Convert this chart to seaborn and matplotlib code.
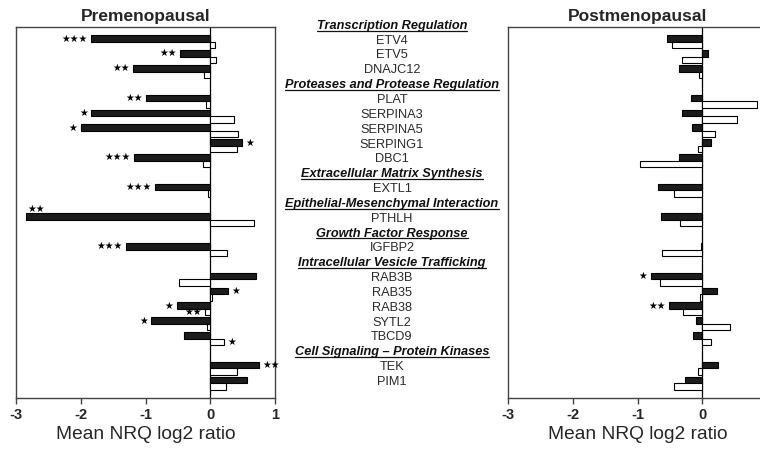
import numpy as np
import pandas as pd
import matplotlib
matplotlib.use("Agg")
import matplotlib.pyplot as plt
import matplotlib.transforms as mtransforms
from matplotlib.lines import Line2D
import seaborn as sns

sns.set_theme(style="white")
plt.rcParams["font.family"] = ["Liberation Sans", "DejaVu Sans"]
plt.rcParams["axes.unicode_minus"] = False

# ---- data ----
rows = ["Transcription Regulation", "ETV4", "ETV5", "DNAJC12",
        "Proteases and Protease Regulation", "PLAT", "SERPINA3", "SERPINA5", "SERPING1", "DBC1",
        "Extracellular Matrix Synthesis", "EXTL1",
        "Epithelial-Mesenchymal Interaction", "PTHLH",
        "Growth Factor Response", "IGFBP2",
        "Intracellular Vesicle Trafficking", "RAB3B", "RAB35", "RAB38", "SYTL2", "TBCD9",
        "Cell Signaling \u2013 Protein Kinases", "TEK", "PIM1"]
headers = ["Transcription Regulation", "Proteases and Protease Regulation",
           "Extracellular Matrix Synthesis", "Epithelial-Mesenchymal Interaction",
           "Growth Factor Response", "Intracellular Vesicle Trafficking",
           "Cell Signaling \u2013 Protein Kinases"]
genes = ["ETV4", "ETV5", "DNAJC12", "PLAT", "SERPINA3", "SERPINA5", "SERPING1", "DBC1",
         "EXTL1", "PTHLH", "IGFBP2", "RAB3B", "RAB35", "RAB38", "SYTL2", "TBCD9", "TEK", "PIM1"]

pre_black = [-1.84, -0.46, -1.19, -0.99, -1.84, -2.00, 0.49, -1.18,
             -0.85, -2.84, -1.30, 0.70, 0.27, -0.52, -0.91, -0.40, 0.75, 0.56]
pre_white = [0.07, 0.09, -0.10, -0.07, 0.37, 0.43, 0.42, -0.11,
             -0.03, 0.67, 0.26, -0.48, 0.03, -0.08, -0.05, 0.22, 0.41, 0.24]
post_black = [-0.55, 0.09, -0.36, -0.17, -0.31, -0.16, 0.13, -0.36,
              -0.68, -0.64, -0.02, -0.80, 0.23, -0.51, -0.10, -0.14, 0.25, -0.26]
post_white = [-0.47, -0.31, -0.05, 0.84, 0.54, 0.20, -0.06, -0.97,
              -0.43, -0.34, -0.63, -0.65, -0.03, -0.30, 0.43, 0.13, -0.07, -0.43]

pre_black_stars = ["***", "**", "**", "**", "*", "*", "*", "***",
                   "***", "**", "***", "", "*", "*", "*", "", "**", ""]
pre_white_stars = ["", "", "", "", "", "", "", "",
                   "", "", "", "", "", "**", "", "*", "", ""]
post_black_stars = ["", "", "", "", "", "", "", "",
                    "", "", "", "*", "", "**", "", "", "", ""]
post_white_stars = [""] * 18

pre_ticks = [-3, -2, -1, 0, 1]
post_ticks = [-3, -2, -1, 0]

series = ["Tumor", "Normal"]
palette = {"Tumor": "#1c1c1c", "Normal": "white"}


def make_df(black, white):
    return pd.DataFrame({
        "gene": genes * 2,
        "value": list(black) + list(white),
        "series": [series[0]] * len(genes) + [series[1]] * len(genes),
    })


W, H = 760, 454
fig = plt.figure(figsize=(W / 100, H / 100), dpi=100)
axL = fig.add_axes([16 / W, (H - 398) / H, 259 / W, 371 / H])
axR = fig.add_axes([508.3 / W, (H - 398) / H, 258.6 / W, 371 / H])

BW = 0.88
OFF = BW / 4


def draw_panel(ax, df, black, white, bstars, wstars, title, ticks):
    sns.barplot(data=df, y="gene", x="value", hue="series", order=rows,
                hue_order=series, palette=palette, orient="h", ax=ax,
                legend=False, edgecolor="black", linewidth=0.8, width=BW,
                errorbar=None, saturation=1)
    ax.axvline(0, color="black", lw=0.9, zorder=0.5)
    ax.set_xlim(-3, 1)
    ax.set_ylim(25.0, 0.0)
    ax.set_yticks([])
    ax.set_ylabel("")
    ax.set_xticks(ticks)
    ax.set_xticklabels([str(t) for t in ticks], fontsize=10.5, fontweight="bold")
    ax.tick_params(axis="x", direction="out", length=4, width=1, color="#444",
                   bottom=True, pad=3)
    ax.set_xlabel("Mean NRQ log2 ratio", fontsize=13.8, labelpad=3)
    ax.set_title(title, fontsize=12.5, fontweight="bold", pad=4)
    for s in ax.spines.values():
        s.set_color("#444")
        s.set_linewidth(1)
    for i, g in enumerate(genes):
        r = rows.index(g)
        for vals, stars, off in ((black, bstars, -OFF), (white, wstars, OFF)):
            st = stars[i]
            if not st:
                continue
            v = vals[i]
            y = r + off
            if v < -2.7:
                ax.text(v + 0.02, y - 0.55, st, ha="left", va="center",
                        fontsize=7, family="DejaVu Sans", color="black")
                continue
            gap = 0.05
            if v < 0:
                ax.text(v - gap, y, st, ha="right", va="center",
                        fontsize=7, family="DejaVu Sans", color="black")
            else:
                ax.text(v + gap, y, st, ha="left", va="center",
                        fontsize=7, family="DejaVu Sans", color="black")


star = lambda lst: [s.replace("*", "\u2605") for s in lst]

draw_panel(axL, make_df(pre_black, pre_white), pre_black, pre_white,
           star(pre_black_stars), star(pre_white_stars), "Premenopausal", pre_ticks)
draw_panel(axR, make_df(post_black, post_white), post_black, post_white,
           star(post_black_stars), star(post_white_stars), "Postmenopausal", post_ticks)

# middle labels
trans = mtransforms.blended_transform_factory(fig.transFigure, axL.transData)
xc = 392 / W
htexts = []
for r, lab in enumerate(rows):
    if lab in headers:
        t = fig.text(xc, r - 0.08, lab, transform=trans, ha="center", va="center",
                     fontsize=9.2, fontweight="bold", fontstyle="italic", color="#111")
        htexts.append(t)
    else:
        fig.text(xc, r - 0.08, lab, transform=trans, ha="center", va="center",
                 fontsize=9.2, color="#2a2a2a")

fig.canvas.draw()
renderer = fig.canvas.get_renderer()
for t in htexts:
    bb = t.get_window_extent(renderer)
    y = (bb.y0 + 1.2) / H
    fig.add_artist(Line2D([bb.x0 / W, bb.x1 / W], [y, y], color="#111", lw=0.9,
                          transform=fig.transFigure))

fig.savefig("out.png", dpi=100)
